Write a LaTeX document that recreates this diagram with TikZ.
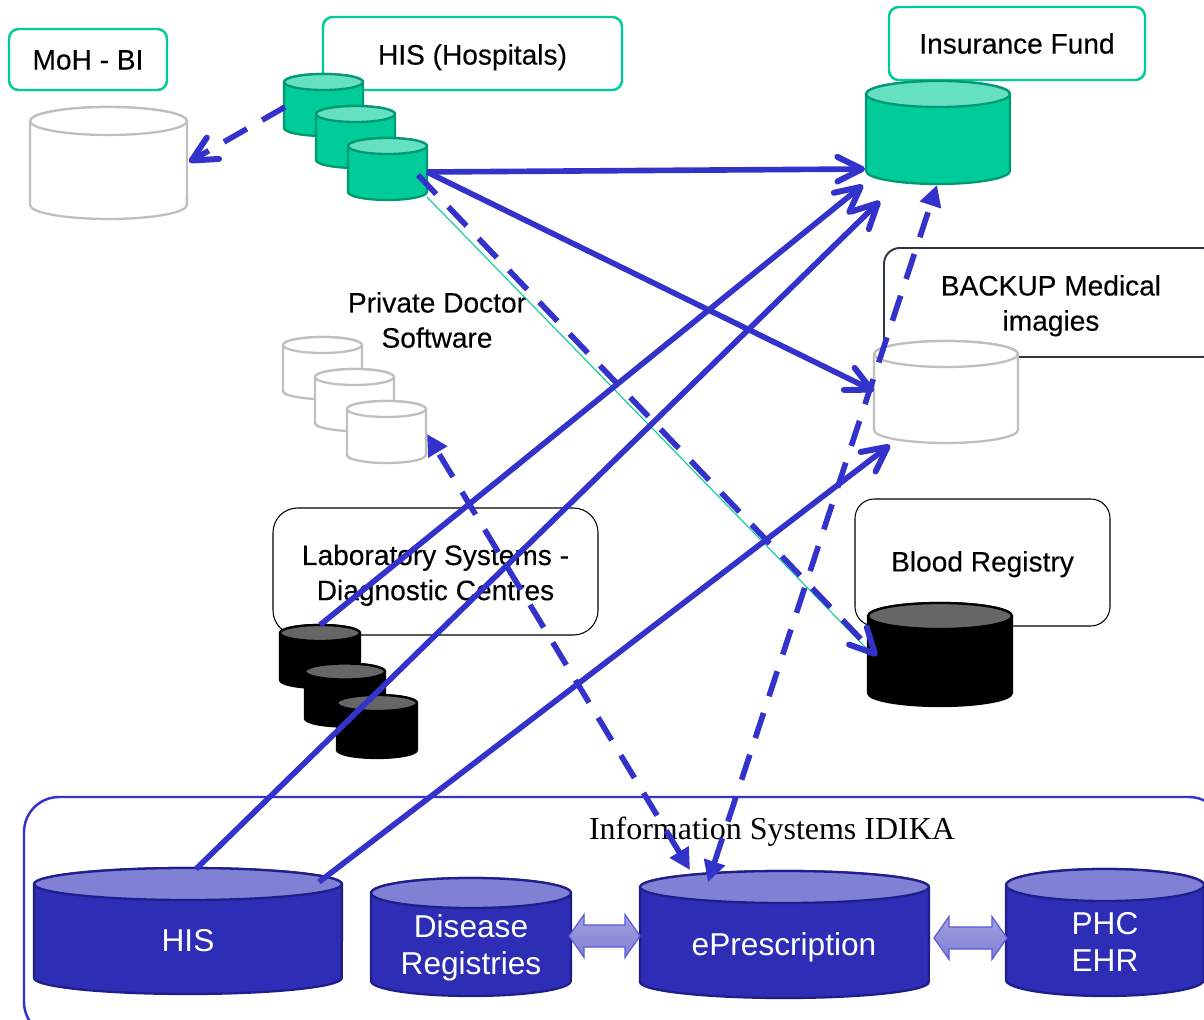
\documentclass[tikz,border=0pt]{standalone}
\usepackage{fontspec}
\setmainfont{Liberation Sans}
\newfontfamily\darkfont[FakeBold=0.25]{Liberation Sans}
\newfontfamily\serifcap{Liberation Serif}
\usetikzlibrary{shapes.arrows,arrows.meta}
\definecolor{grnbody}{HTML}{00CC99}
\definecolor{grntop}{HTML}{66E0C2}
\definecolor{grnline}{HTML}{009973}
\definecolor{grybody}{HTML}{FFFFFF}
\definecolor{grytop}{HTML}{FFFFFF}
\definecolor{gryline}{HTML}{BFBFBF}
\definecolor{blubody}{HTML}{2E2DB5}
\definecolor{blutop}{HTML}{8080D4}
\definecolor{bluline}{HTML}{1F1F8C}
\definecolor{blkbody}{HTML}{000000}
\definecolor{blktop}{HTML}{666666}
\definecolor{blkline}{HTML}{000000}
\definecolor{conn}{HTML}{3333CC}
\definecolor{dbox}{HTML}{2B3640}
% shifts the text of a node down by #1 while the node keeps its place
\newcommand\lowered[2]{\vbox{\kern #1\kern #1\hbox{\begin{tabular}{@{}c@{}}#2\end{tabular}}}}
% name, centre x, centre y, width, height, end-ellipse y radius, colour family
\newcommand\cyl[7]{%
  \node[cylbox,minimum width=#4*0.02cm,minimum height=#5*0.02cm] (#1) at (#2,#3) {};
  \path[fill=#7body,draw=#7line,cylline]
    ([yshift=-#6*0.02cm]#1.north west) -- ([yshift=#6*0.02cm]#1.south west)
    arc[start angle=180,end angle=360,x radius=#4*0.01cm,y radius=#6*0.02cm]
    -- ([yshift=-#6*0.02cm]#1.north east)
    arc[start angle=0,end angle=180,x radius=#4*0.01cm,y radius=#6*0.02cm] -- cycle;
  \path[fill=#7top,draw=#7line,cylline] ([yshift=-#6*0.02cm]#1.north)
    ellipse[x radius=#4*0.01cm,y radius=#6*0.02cm];
}
\tikzset{
  x=0.02cm,y=-0.02cm,
  cylbox/.style={inner sep=0pt,outer sep=0pt},
  cylline/.style={line width=1.3pt},
  lab/.style={font=\darkfont\fontsize{16}{20}\selectfont,align=center,inner sep=0pt},
  tag/.style={draw=grnbody,line width=1.4pt,rounded corners=5.5pt,fill=white,inner sep=0pt,lab},
  tagk/.style={draw=black,line width=0.6pt,fill=white,inner sep=0pt,lab},
  ctext/.style={font=\fontsize{18}{21}\selectfont,text=white,inner sep=0pt,align=center},
  link/.style={draw=conn,line width=3.2pt},
  dlink/.style={link,dash pattern=on 15pt off 10pt},
  barb/.tip={Straight Barb[length=14pt,width=14pt,line width=3.4pt,round]},
  solidh/.tip={Triangle[length=12pt,width=12pt]},
  thin link/.style={draw=grnbody,line width=0.6pt},
  dbl/.style={double arrow,draw=conn!80!white,line width=0.7pt,inner xsep=0pt,inner ysep=5.95pt,
     double arrow head extend=5.95pt,double arrow tip angle=110,
     top color=blutop!75!white,bottom color=blutop},
}
\begin{document}
\begin{tikzpicture}
\useasboundingbox (0,0) rectangle (1204,1020);
\path[fill=white] (0,0) rectangle (1204,1020);

% label boxes
\node[tag,minimum width=158*0.02cm,minimum height=61*0.02cm] (mohL) at (88,59.5) {\lowered{1.7pt}{MoH - BI}};
\node[tag,minimum width=299*0.02cm,minimum height=73*0.02cm] (hisL) at (472.5,53.5) {\lowered{2.3pt}{HIS (Hospitals)}};
\node[tag,minimum width=256*0.02cm,minimum height=73*0.02cm] (insL) at (1017,43.5) {Insurance Fund};
\node[tagk,draw=dbox,line width=1.1pt,rounded corners=9pt,minimum width=334*0.02cm,minimum height=109*0.02cm] (bakL) at (1051,302.5) {\lowered{2pt}{BACKUP Medical\\imagies}};
\node[lab] (pdL) at (437,320) {Private Doctor\\Software};
\node[tagk,rounded corners=14pt,minimum width=325*0.02cm,minimum height=127*0.02cm] (labL) at (435.5,571.5) {\lowered{2.3pt}{Laboratory Systems -\\Diagnostic Centres}};
\node[tagk,rounded corners=11pt,minimum width=255*0.02cm,minimum height=127*0.02cm] (bldL) at (982.5,562.5) {\lowered{1.1pt}{Blood Registry}};

% IDIKA container
\node[draw=conn,line width=1.4pt,rounded corners=20pt,inner sep=0pt,minimum width=1200*0.02cm,minimum height=240*0.02cm] (idk) at (624,917) {};
\node[font=\serifcap\fontsize{18.2}{20}\selectfont,inner sep=0pt] (idkT) at (772,832) {Information Systems IDIKA};

% cylinders
\cyl{moh}{108.5}{163}{157}{112}{14}{gry}
\cyl{hA}{323.5}{105}{79}{62}{8}{grn}
\cyl{hB}{355.5}{137}{79}{62}{8}{grn}
\cyl{hC}{387.5}{169}{79}{62}{8}{grn}
\cyl{ins}{938}{132.5}{144}{103}{13}{grn}
\cyl{bak}{946}{392}{144}{102}{13}{gry}
\cyl{pA}{322.5}{368}{79}{62}{8}{gry}
\cyl{pB}{354.5}{400}{79}{62}{8}{gry}
\cyl{pC}{386.5}{432}{79}{62}{8}{gry}
\cyl{lA}{320}{656.5}{80}{63}{8}{blk}
\cyl{lB}{345}{695}{80}{63}{8}{blk}
\cyl{lC}{377}{726.5}{80}{63}{8}{blk}
\cyl{bld}{940}{654.5}{144}{103}{13}{blk}
\cyl{his}{188}{931}{308}{126}{16}{blu}
\cyl{dis}{471}{937}{200}{118}{15}{blu}
\cyl{epr}{784.5}{934.5}{289}{127}{16}{blu}
\cyl{phc}{1105}{932.5}{198}{127}{16}{blu}
\node[ctext] (hisT) at (188,941) {HIS};
\node[ctext] (disT) at (471,948) {Disease\\Registries};
\node[ctext] (eprT) at (784,947) {ePrescription};
\node[ctext] (phcT) at (1105,942) {PHC\\EHR};

% double arrows between IDIKA systems
\node[dbl,minimum height=71*0.02cm] (d1) at (604.5,936) {};
\node[dbl,minimum height=73*0.02cm] (d2) at (970.5,938) {};

% connection end points on the cylinders
\coordinate (hA-w) at (285,107);
\coordinate (moh-e) at (189,162);
\coordinate (hC-e) at (427,172);
\coordinate (hC-c) at (418,175);
\coordinate (hC-s) at (427,197);
\coordinate (ins-w) at (865,169);
\coordinate (ins-sw1) at (863,185);
\coordinate (ins-sw2) at (880,201);
\coordinate (ins-s) at (937,185);
\coordinate (bak-w) at (874,391);
\coordinate (bak-sw) at (890,445);
\coordinate (bld-w) at (877,656);
\coordinate (bld-w2) at (868,650);
\coordinate (pC-e) at (427,434);
\coordinate (lA-n) at (320,625);
\coordinate (his-n1) at (196,869);
\coordinate (his-n2) at (319,882);
\coordinate (epr-n1) at (690,870);
\coordinate (epr-n2) at (708,882);

% connectors
\draw[thin link] (hC-s) -- (bld-w2);
\draw[thin link] (hC-e) -- (ins-w);
\draw[dlink,-{barb}] (hA-w) -- (moh-e);
\draw[link,-{barb}] (hC-e) -- (ins-w);
\draw[link,-{barb}] (hC-e) -- (bak-w);
\draw[dlink,-{barb}] (hC-c) -- (bld-w);
\draw[link,-{barb}] (lA-n) -- (ins-sw1);
\draw[link,-{barb}] (his-n1) -- (ins-sw2);
\draw[link,-{barb}] (his-n2) -- (bak-sw);
\draw[dlink,{solidh}-{solidh}] (epr-n2) -- (ins-s);
\draw[dlink,{solidh}-{solidh}] (epr-n1) -- (pC-e);
\end{tikzpicture}
\end{document}
